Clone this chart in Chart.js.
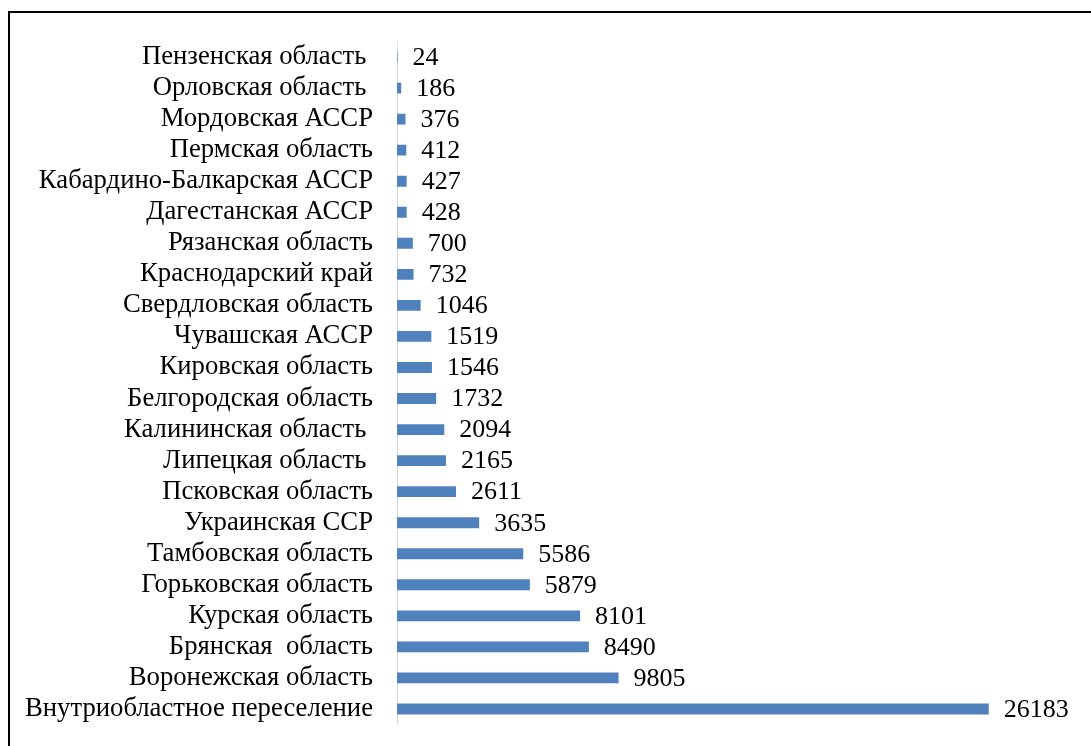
<!DOCTYPE html>
<html>
<head>
<meta charset="utf-8">
<script src="https://cdn.jsdelivr.net/npm/chart.js@4/dist/chart.umd.min.js"></script>
<style>
  html, body { margin:0; padding:0; background:#fff; overflow:hidden; }
  #wrap { position:relative; width:1091px; height:746px; }
  #frame { position:absolute; left:8px; top:11px; width:1200px; height:800px; border:2px solid #000; box-sizing:border-box; }
  canvas { position:absolute; left:0; top:0; }
</style>
</head>
<body>
<div id="wrap">
  <div id="frame"></div>
  <canvas id="chart" width="1091" height="746"></canvas>
</div>
<script>
// regions, top to bottom as in the picture
const regions = [
  'Пензенская область ',
  'Орловская область ',
  'Мордовская АССР',
  'Пермская область',
  'Кабардино-Балкарская АССР',
  'Дагестанская АССР',
  'Рязанская область',
  'Краснодарский край',
  'Свердловская область',
  'Чувашская АССР',
  'Кировская область',
  'Белгородская область',
  'Калининская область ',
  'Липецкая область ',
  'Псковская область',
  'Украинская ССР',
  'Тамбовская область',
  'Горьковская область',
  'Курская область',
  'Брянская  область',
  'Воронежская область',
  'Внутриобластное переселение'
];
const settlers = [24, 186, 376, 412, 427, 428, 700, 732, 1046, 1519, 1546, 1732, 2094, 2165, 2611, 3635, 5586, 5879, 8101, 8490, 9805, 26183];

const serif = '"Liberation Serif", "Times New Roman", serif';

// value labels to the right of each bar
const valueLabels = {
  id: 'valueLabels',
  afterDatasetsDraw(chart){
    const ctx = chart.ctx;
    const meta = chart.getDatasetMeta(0);
    ctx.save();
    ctx.font = '26px ' + serif;
    ctx.fillStyle = '#000';
    ctx.textAlign = 'left';
    ctx.textBaseline = 'middle';
    meta.data.forEach((bar, i)=>{
      ctx.fillText(String(settlers[i]), bar.x + 15, bar.y + 1);
    });
    ctx.restore();
  }
};

new Chart(document.getElementById('chart').getContext('2d'), {
  type: 'bar',
  data: {
    labels: regions,
    datasets: [{
      data: settlers,
      backgroundColor: '#4f81bd',
      barPercentage: 0.35,
      categoryPercentage: 1
    }]
  },
  options: {
    indexAxis: 'y',
    responsive: false,
    animation: false,
    layout: { padding: { top: 41.5, bottom: 21.5, right: 16, left: 0 } },
    plugins: { legend: { display: false }, tooltip: { enabled: false } },
    scales: {
      x: { display: false, min: 0, max: 30000 },
      y: {
        // invisible tick marks just push the labels away from the axis
        grid: { display: true, drawOnChartArea: false, drawTicks: true, tickLength: 24, color: 'rgba(0,0,0,0)' },
        border: { display: true, color: '#d9d9d9', width: 1 },
        ticks: { color: '#000', font: { family: serif, size: 26.7 }, padding: 0, autoSkip: false },
        afterFit(scale){ scale.width = 397; }
      }
    }
  },
  plugins: [valueLabels]
});
</script>
</body>
</html>
